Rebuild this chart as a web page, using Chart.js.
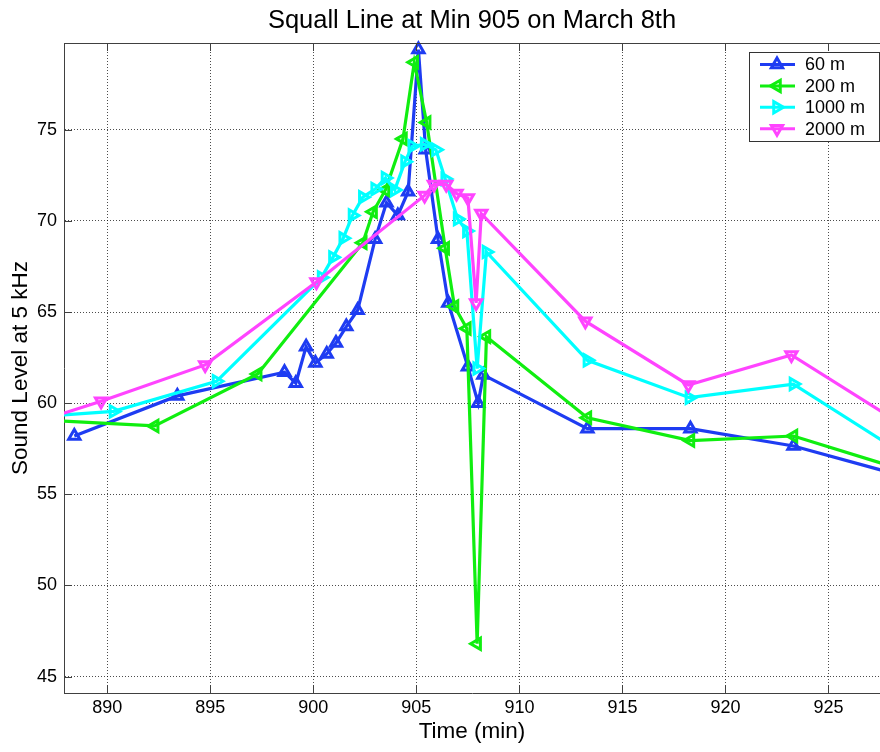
<!DOCTYPE html>
<html>
<head>
<meta charset="utf-8">
<title>Squall Line at Min 905 on March 8th</title>
<script src="https://cdn.jsdelivr.net/npm/chart.js@4.4.1/dist/chart.umd.min.js"></script>
<style>
  html, body { margin: 0; padding: 0; background: #fff; overflow: hidden; }
  #wrap { position: relative; width: 880px; height: 752px; }
</style>
</head>
<body>
<div id="wrap"><canvas id="squallChart" width="880" height="752"></canvas></div>
<script>
// ======= DATA =======
const labels = ["60 m", "200 m", "1000 m", "2000 m"];

const time60 = [888.4, 893.4, 898.6, 899.15, 899.65, 900.1, 900.65, 901.1, 901.6, 902.15, 903.0, 903.55, 904.1, 904.6, 905.1, 905.45, 906.05, 906.55, 907.5, 908.0, 908.25, 913.3, 918.3, 923.3, 928.3];
const level60 = [58.2, 60.4, 61.7, 61.1, 63.1, 62.2, 62.7, 63.3, 64.2, 65.1, 69.0, 71.0, 70.3, 71.6, 79.4, 73.9, 69.0, 65.5, 62.0, 60.0, 61.55, 58.6, 58.6, 57.65, 56.1];

const time200 = [887.3, 892.3, 897.3, 902.4, 902.9, 903.5, 904.35, 904.9, 905.5, 906.4, 906.85, 907.45, 907.95, 908.4, 913.3, 918.3, 923.3, 928.3];
const level200 = [59.05, 58.75, 61.6, 68.8, 70.5, 71.7, 74.5, 78.7, 75.4, 68.5, 65.3, 64.1, 46.8, 63.65, 59.2, 57.95, 58.2, 56.45];

const time1000 = [885.3, 890.3, 895.3, 900.4, 900.95, 901.45, 901.9, 902.4, 903.0, 903.5, 903.95, 904.45, 904.8, 905.4, 905.95, 906.4, 907.0, 907.45, 907.95, 908.4, 913.3, 918.25, 923.3, 928.3];
const level1000 = [59.15, 59.55, 61.2, 66.9, 68.0, 69.05, 70.3, 71.3, 71.75, 72.35, 71.7, 73.25, 74.1, 74.2, 73.9, 72.3, 70.1, 69.45, 61.9, 68.3, 62.35, 60.3, 61.05, 57.45];

const time2000 = [884.7, 889.7, 894.75, 900.15, 905.4, 905.85, 906.45, 906.95, 907.5, 907.9, 908.15, 913.2, 918.2, 923.2, 928.2];
const level2000 = [58.3, 60.1, 62.1, 66.65, 71.4, 72.0, 72.0, 71.5, 71.25, 65.5, 70.4, 64.5, 61.0, 62.65, 59.1];

const xRange = [887.9, 927.5];
const yRange = [44.1, 79.76];

const FONT = '"Liberation Sans", Arial, Helvetica, sans-serif';

function drawTri(ctx, x, y, r, rot) {
  let a = rot * Math.PI / 180;
  ctx.beginPath();
  for (let k = 0; k < 3; k++) {
    const px = x + Math.sin(a) * r, py = y - Math.cos(a) * r;
    if (k) ctx.lineTo(px, py); else ctx.moveTo(px, py);
    a += 2 * Math.PI / 3;
  }
  ctx.closePath();
  ctx.stroke();
}

// top border + inward tick marks like matlab
const frameTicks = {
  id: 'frameTicks',
  afterDraw(chart) {
    const { ctx, chartArea: a, scales: { x, y } } = chart;
    ctx.save();
    ctx.strokeStyle = '#404040';
    ctx.lineWidth = 1;
    ctx.beginPath();
    ctx.moveTo(a.left, a.top + 0.5);
    ctx.lineTo(a.right, a.top + 0.5);
    x.ticks.forEach(t => {
      const px = Math.round(x.getPixelForValue(t.value)) + 0.5;
      ctx.moveTo(px, a.bottom); ctx.lineTo(px, a.bottom - 8);
      ctx.moveTo(px, a.top); ctx.lineTo(px, a.top + 8);
    });
    y.ticks.forEach(t => {
      const py = Math.round(y.getPixelForValue(t.value)) + 0.5;
      ctx.moveTo(a.left, py); ctx.lineTo(a.left + 8, py);
    });
    ctx.stroke();
    ctx.restore();
  }
};

// ======= legend box (top right, inside axes) =======
const boxLegend = {
  id: 'boxLegend',
  afterDraw(chart) {
    const { ctx, chartArea: a } = chart;
    const w = 130, h = 89, rowH = 21.4;
    const left = Math.round(a.right - w - 1), top = Math.round(a.top + 9);
    ctx.save();
    ctx.fillStyle = '#fff';
    ctx.fillRect(left, top, w, h);
    ctx.strokeStyle = '#333';
    ctx.lineWidth = 1;
    ctx.strokeRect(left + 0.5, top + 0.5, w, h);
    chart.data.datasets.forEach((ds, i) => {
      const cy = top + 12.5 + i * rowH;
      ctx.strokeStyle = ds.borderColor;
      ctx.lineWidth = 3;
      ctx.beginPath();
      ctx.moveTo(left + 11, cy);
      ctx.lineTo(left + 46, cy);
      ctx.stroke();
      ctx.lineWidth = 3;
      drawTri(ctx, left + 28, cy, 6.5, ds.pointRotation);
      ctx.fillStyle = '#000';
      ctx.font = '18px ' + FONT;
      ctx.textBaseline = 'middle';
      ctx.fillText(ds.label, left + 56, cy + 1);
    });
    ctx.restore();
  }
};

function series(label, xs, ys, color, rot, order) {
  return {
    label: label,
    data: xs.map((x, i) => ({ x: x, y: ys[i] })),
    borderColor: color,
    backgroundColor: 'rgba(0,0,0,0)',
    borderWidth: 3.2,
    pointStyle: 'triangle',
    pointRotation: rot,
    pointRadius: 6.5,
    pointBorderWidth: 3,
    pointBorderColor: color,
    pointBackgroundColor: 'rgba(0,0,0,0)',
    tension: 0,
    order: order,
    clip: { left: 0, top: 12, right: 0, bottom: 0 }
  };
}

const ctx = document.getElementById('squallChart');
new Chart(ctx, {
  type: 'line',
  data: {
    datasets: [
      series(labels[0], time60, level60, '#1e3cf2', 0, 4),
      series(labels[1], time200, level200, '#10ee10', 270, 3),
      series(labels[2], time1000, level1000, '#00ffff', 90, 2),
      series(labels[3], time2000, level2000, '#ff44ff', 180, 1)
    ]
  },
  options: {
    responsive: false,
    animation: false,
    devicePixelRatio: 1,
    layout: { padding: 0, autoPadding: false },
    scales: {
      x: {
        type: 'linear',
        min: xRange[0],
        max: xRange[1],
        afterFit(s) { s.height = 59; s.paddingLeft = 0; s.paddingRight = 0; },
        ticks: {
          stepSize: 5, includeBounds: false, maxRotation: 0, padding: 4.5,
          color: '#000', font: { size: 18, family: FONT }
        },
        grid: { color: 'rgba(0,0,0,0.7)', lineWidth: 1, drawTicks: false },
        border: { color: '#404040', width: 1, dash: [1, 2] },
        title: {
          display: true, text: 'Time (min)', color: '#000',
          font: { size: 22.5, family: FONT }, padding: { top: 0, bottom: 6.5 }
        }
      },
      y: {
        type: 'linear',
        min: yRange[0],
        max: yRange[1],
        afterFit(s) { s.width = 64; s.paddingTop = 0; s.paddingBottom = 0; },
        ticks: {
          stepSize: 5, includeBounds: false, padding: 7,
          color: '#000', font: { size: 18, family: FONT }
        },
        grid: { color: 'rgba(0,0,0,0.7)', lineWidth: 1, drawTicks: false },
        border: { color: '#404040', width: 1, dash: [1, 2] },
        title: {
          display: true, text: 'Sound Level at 5 kHz', color: '#000',
          font: { size: 22.5, family: FONT }, padding: { top: 7, bottom: 0 }
        }
      }
    },
    plugins: {
      legend: { display: false },
      tooltip: { enabled: false },
      title: {
        display: true,
        fullSize: false,
        text: 'Squall Line at Min 905 on March 8th',
        color: '#000',
        font: { size: 25.5, weight: 'normal', family: FONT },
        padding: { top: 6, bottom: 6.4 }
      }
    }
  },
  plugins: [frameTicks, boxLegend]
});
</script>
</body>
</html>
